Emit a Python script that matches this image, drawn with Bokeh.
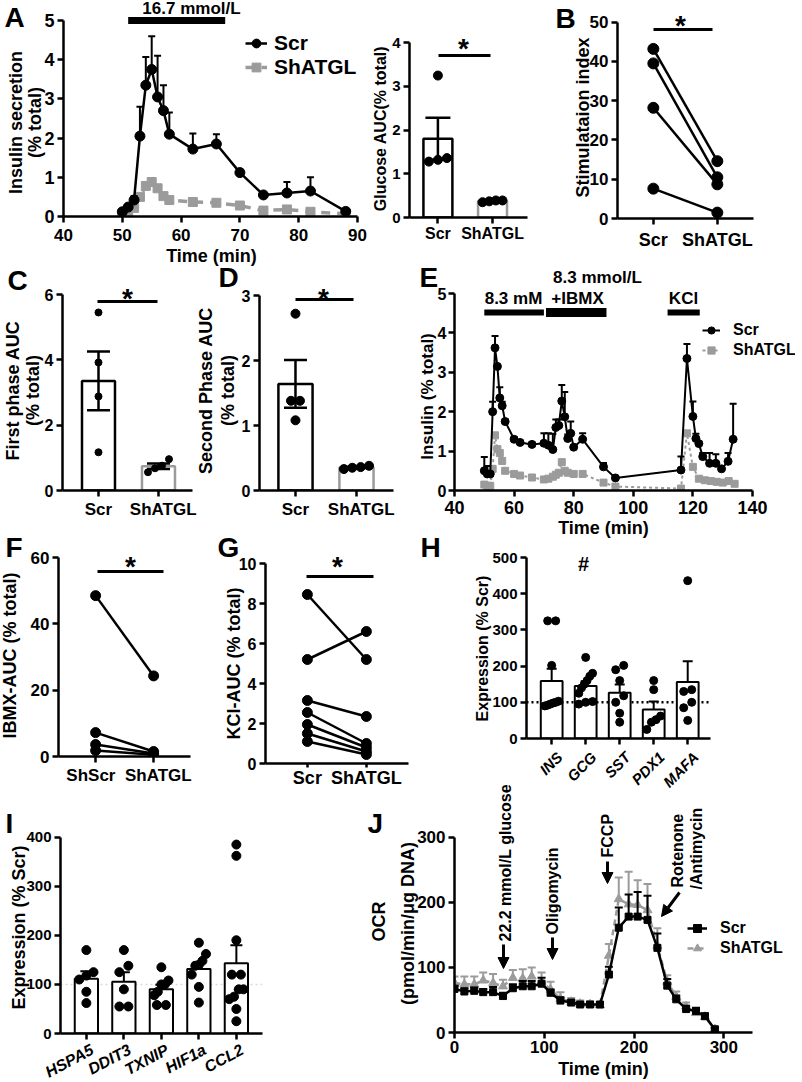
import numpy as np
from math import pi
from jinja2 import Template
from bokeh.plotting import figure
from bokeh.models import Range1d, FixedTicker, Label, Legend, LegendItem, Arrow, NormalHead
from bokeh.embed import file_html
from bokeh.resources import INLINE

FONT = "Liberation Sans"
GRAY = "#9b9b9b"
NB = "\u00a0"

# ============================ DATA ============================
# A: perifusion at 16.7 mmol/L glucose
a_time = [50, 51, 52, 53, 54, 55, 56, 57, 58, 62, 66, 70, 74, 78, 82, 88]
a_scr = [0.12, 0.24, 0.42, 2.05, 3.35, 3.75, 3.05, 2.70, 2.10, 1.72, 1.85, 1.12, 0.55, 0.60, 0.65, 0.13]
a_scr_sem = [0, 0, 0.10, 0.75, 0.72, 0.85, 1.05, 0.65, 0.55, 0.40, 0.25, 0.08, 0.03, 0.28, 0.35, 0]
a_sh = [0.05, 0.10, 0.22, 0.50, 0.78, 0.88, 0.72, 0.52, 0.42, 0.37, 0.35, 0.28, 0.15, 0.18, 0.12, 0.07]
a_sh_sem = [0, 0, 0.03, 0.06, 0.08, 0.08, 0.06, 0.04, 0.03, 0.02, 0.02, 0.02, 0.02, 0.03, 0.02, 0]
a_stim = [51, 67.5]
a_stim_label = "16.7 mmol/L"

groups = ["Scr", "ShATGL"]
glucose_auc_scr = [3.25, 1.28, 1.36, 1.32]
glucose_auc_sh = [0.35, 0.39, 0.39, 0.37]

# B: stimulation index (paired)
b_scr = [43.2, 39.5, 28.2, 7.6]
b_sh = [14.6, 10.5, 8.7, 1.5]

# C / D: first and second phase AUC
c_scr = [5.45, 3.92, 2.88, 1.17]
c_sh = [0.56, 0.96, 0.76, 0.68]
d_scr = [2.72, 1.38, 1.38, 1.08]
d_sh = [0.33, 0.38, 0.35, 0.36]

# E: 8.3 mM, 8.3 mmol/L + IBMX, KCl
e_scr_time = [50, 51, 52, 52.8, 53.6, 54.4, 55.2, 56, 57, 60, 62, 66, 70, 71.5, 73, 74, 75, 76, 77, 78, 79, 80, 83,
              90, 94, 116, 118, 120, 121, 122, 123.3, 125.6, 127.7, 129.6, 131.8, 133.5]
e_scr = [0.50, 0.42, 0.42, 2.00, 3.62, 3.15, 2.35, 2.15, 1.75, 1.30, 1.22, 1.17, 1.20, 1.15, 1.04, 1.60, 1.65, 2.27,
         1.87, 1.32, 1.45, 1.10, 1.30, 0.60, 0.32, 0.52, 3.35, 1.88, 1.32, 1.19, 0.86, 0.69, 0.69, 0.55, 0.74, 1.30]
e_scr_sem = [0.35, 0.2, 0.05, 0.25, 0.3, 0.02, 0.27, 0.1, 0.05, 0.05, 0.05, 0.05, 0.25, 0.3, 0.4, 0.2, 0.15, 0.41,
             0.63, 0.1, 0.3, 0.05, 0.15, 0.1, 0.03, 0.34, 0.37, 0.38, 0.12, 0.05, 0.09, 0.26, 0.23, 0.05, 0.21, 0.9]
e_sh_time = [50, 51, 52, 52.8, 53.6, 54.4, 55.2, 56, 57, 60, 62, 66, 70, 71.5, 73, 74, 75, 76, 77, 78, 80, 83,
             90, 94, 116, 118, 120, 122, 124, 126, 128, 130, 132, 134]
e_sh = [0.15, 0.12, 0.12, 0.55, 1.40, 1.05, 0.95, 0.75, 0.50, 0.42, 0.38, 0.33, 0.28, 0.30, 0.35, 0.40, 0.45, 0.72,
        0.50, 0.45, 0.42, 0.42, 0.20, 0.10, 0.05, 1.45, 0.60, 0.30, 0.26, 0.24, 0.22, 0.20, 0.24, 0.17]
e_stim_names = ["8.3 mM", "+IBMX", "KCl"]
e_stim_on = [50, 70.7, 111.5]
e_stim_off = [70, 91, 122.3]

# F / G: IBMX and KCl AUC (paired)
f_groups = ["ShScr", "ShATGL"]
f_scr = [48.5, 7.2, 3.6, 1.8]
f_sh = [24.3, 1.5, 0.9, 0.5]
g_scr = [8.45, 5.2, 3.15, 2.55, 1.95, 1.5, 1.1]
g_sh = [5.2, 6.6, 2.35, 1.0, 0.8, 0.6, 0.45]

# H / I: gene expression (% Scr)
h_genes = ["INS", "GCG", "SST", "PDX1", "MAFA"]
h_vals = [[325, 325, 202, 103, 100, 98, 95, 92, 90],
          [224, 180, 172, 160, 150, 140, 125, 102, 100, 95],
          [202, 190, 160, 118, 100, 70, 45],
          [160, 135, 62, 52, 45, 25],
          [436, 135, 130, 100, 85, 50]]
i_genes = ["HSPA5", "DDIT3", "TXNIP", "HIF1a", "CCL2"]
i_vals = [[170, 125, 118, 110, 85, 62],
          [170, 138, 125, 90, 55, 55],
          [135, 108, 100, 100, 85, 78, 58, 58],
          [185, 162, 148, 140, 138, 120, 95, 63],
          [385, 362, 190, 120, 120, 90, 90, 75, 70, 50, 25]]

# J: oxygen consumption rate
j_time = [0, 11, 22, 32, 43, 54, 65, 76, 86, 97, 107, 118, 130, 140, 151, 162, 172, 183, 194, 204,
          215, 226, 237, 247, 258, 269, 279, 290]
j_scr = [67, 63, 64, 62, 62, 56, 68, 71, 71, 75, 61, 49, 46, 43, 43, 43, 89, 161, 178, 178,
         173, 130, 72, 51, 36, 33, 25, 5]
j_scr_sem = [5, 5, 5, 5, 8, 5, 6, 8, 8, 9, 5, 5, 3, 3, 3, 3, 12, 31, 34, 38, 37, 22, 10, 6, 5, 5, 4, 2]
j_sh = [76, 74, 74, 80, 76, 71, 84, 83, 86, 78, 66, 52, 47, 44, 43, 42, 118, 205, 197, 196,
        188, 133, 78, 55, 40, 30, 24, 5]
j_sh_sem = [10, 12, 12, 12, 14, 10, 12, 14, 14, 14, 12, 10, 6, 5, 5, 5, 18, 33, 50, 38, 40, 27, 10, 8, 6, 5, 4, 2]
j_events = ["22.2 mmol/L glucose", "Oligomycin", "FCCP", "Rotenone", "/Antimycin"]

# ============================ HELPERS ============================
PLACED = []  # (figure, left, top)


class Pan:
    """A figure placed at a page position whose frame sits at given page-pixel edges."""
    def __init__(self, fig, frame, xr, ycal):
        fx0, fy0, fx1, fy1 = fig
        L, R, T, B = frame
        xs, xe = xr
        (ya, pa), (yb, pb) = ycal
        bl, br, bt, bb = L - fx0, fx1 - R, T - fy0, fy1 - B
        k = (yb - ya) / (pa - pb)
        ys = ya + (pa - B) * k
        ye = ya + (pa - T) * k
        self.L, self.R, self.T, self.B = L, R, T, B
        self.xs, self.xe, self.ys, self.ye = xs, xe, ys, ye
        p = figure(width=fx1 - fx0, height=fy1 - fy0, x_range=Range1d(xs, xe), y_range=Range1d(ys, ye),
                   min_border_left=bl, min_border_right=br, min_border_top=bt, min_border_bottom=bb,
                   output_backend="svg", toolbar_location=None, tools="")
        p.outline_line_color = None
        p.xgrid.visible = False
        p.ygrid.visible = False
        p.background_fill_color = None
        p.border_fill_color = None
        self.p = p
        self.ppx = (R - L) / (xe - xs)
        self.ppy = (B - T) / (ye - ys)
        PLACED.append((p, fx0, fy0))

    def X(self, rx):
        return self.xs + (rx - self.L) / self.ppx

    def Y(self, ry):
        return self.ys + (self.B - ry) / self.ppy

    def xpx(self, x):
        return self.L + (x - self.xs) * self.ppx


def axes(P, xticks, yticks, xbounds=None, ybounds=None, xfs=17, yfs=17, lw=2.5, xtick_out=6,
         ytick_out=6, xstand=4, ystand=3, xover=None):
    p = P.p
    p.xaxis.ticker = FixedTicker(ticks=xticks)
    p.yaxis.ticker = FixedTicker(ticks=yticks)
    if xover is not None:
        p.xaxis.major_label_overrides = xover
    if xbounds is not None:
        p.xaxis.bounds = xbounds
    if ybounds is not None:
        p.yaxis.bounds = ybounds
    for ax, fs, to in ((p.xaxis[0], xfs, xtick_out), (p.yaxis[0], yfs, ytick_out)):
        ax.axis_line_width = lw
        ax.axis_line_color = "black"
        ax.major_tick_line_width = lw
        ax.major_tick_line_color = "black"
        ax.major_tick_out = to
        ax.major_tick_in = 0
        ax.minor_tick_line_color = None
        ax.major_label_text_font = FONT
        ax.major_label_text_font_style = "bold"
        ax.major_label_text_font_size = f"{fs}px"
        ax.major_label_text_color = "black"
    p.xaxis.major_label_standoff = xstand
    p.yaxis.major_label_standoff = ystand


def errbars(P, x, y, err, color, capw, lw=2, down=False):
    x = np.asarray(x, float)
    y = np.asarray(y, float)
    e = np.asarray(err, float)
    k = e > 0
    x, y, e = x[k], y[k], e[k]
    lo = y - e if down else y
    P.p.segment(x, lo, x, y + e, line_color=color, line_width=lw)
    P.p.scatter(x, y + e, marker="dash", size=capw, line_color=color, line_width=lw)
    if down:
        P.p.scatter(x, y - e, marker="dash", size=capw, line_color=color, line_width=lw)


def swarm(vals, center, P, d, maxhalf):
    v = np.asarray(vals, float)
    order = np.argsort(v, kind="stable")
    xs = np.full(len(v), float(center))
    clusters = [[order[0]]]
    for i in order[1:]:
        if (v[i] - v[clusters[-1][-1]]) * P.ppy < d:
            clusters[-1].append(i)
        else:
            clusters.append([i])
    for cl in clusters:
        n = len(cl)
        if n == 1:
            continue
        step = min(d, 2.0 * maxhalf / (n - 1))
        for kk, i in enumerate(cl):
            xs[i] = center + (kk - (n - 1) / 2.0) * step / P.ppx
    return xs


def bar_panel(P, groups_vals, width, colors, capw, dot, lw=2.5, both=True, elw=2.5):
    for i, vals in enumerate(groups_vals):
        v = np.asarray(vals, float)
        m = v.mean()
        s = v.std(ddof=1) / np.sqrt(len(v))
        P.p.vbar(x=[i], top=[m], bottom=0, width=width, fill_color="white",
                 line_color=colors[i], line_width=lw)
        errbars(P, [i], [m], [s], "black", capw, lw=elw, down=both)
        half = width * P.ppx / 2.0 - dot / 2.0
        xs = swarm(v, i, P, dot, half)
        P.p.scatter(xs, v, size=dot, color="black")


def paired(P, a, b, size, lw=2.5):
    for va, vb in zip(a, b):
        P.p.line([0, 1], [va, vb], line_color="black", line_width=lw)
    P.p.scatter([0] * len(a), a, size=size, color="black")
    P.p.scatter([1] * len(b), b, size=size, color="black")


def legend(P, items, loc, fs, gw, gh, standoff, spacing=0):
    leg = Legend(items=items, location=loc, orientation="vertical", border_line_color=None,
                 background_fill_alpha=0.0, padding=0, margin=0, spacing=spacing,
                 glyph_width=gw, glyph_height=gh, label_height=gh, label_standoff=standoff,
                 label_text_font=FONT, label_text_font_style="bold",
                 label_text_font_size=f"{fs}px", label_text_color="black")
    P.p.add_layout(leg)


# ---------- overlay figure for free text (page pixel coordinates) ----------
O = figure(width=802, height=1082, x_range=Range1d(0, 802), y_range=Range1d(1082, 0),
           min_border_left=0, min_border_right=0, min_border_top=0, min_border_bottom=0,
           x_axis_type=None, y_axis_type=None, output_backend="svg", toolbar_location=None, tools="")
O.outline_line_color = None
O.background_fill_color = None
O.border_fill_color = None


def ot(x, y, text, size, angle=0, align="center", style="bold"):
    O.add_layout(Label(x=x, y=y, text=text, angle=angle, text_align=align, text_baseline="middle",
                       text_font=FONT, text_font_style=style, text_font_size=f"{size}px",
                       text_color="black"))


def letter(x, y, t):
    ot(x, y, t, 28, align="left")


def star(x, y, size=28):
    ot(x, y + 0.23 * size, "*", size)


def sigline(x0, x1, y):
    O.line([x0, x1], [y, y], line_color="black", line_width=3)


# ============================ PANEL A ============================
A = Pan((18, 8, 372, 256), (63, 370, 10, 216), (40, 90 + 13 / 5.88), ((0, 216), (5, 20)))
axes(A, [40, 50, 60, 70, 80, 90], [0, 1, 2, 3, 4, 5], xbounds=(40, 90), ybounds=(0, 5),
     xfs=17, yfs=18, xstand=6)
errbars(A, a_time, a_sh, a_sh_sem, GRAY, 7)
r_sh_l = A.p.line(a_time, a_sh, line_color=GRAY, line_width=3.5, line_dash="9 7")
r_sh_m = A.p.scatter(a_time, a_sh, marker="square", size=9, color=GRAY)
errbars(A, a_time, a_scr, a_scr_sem, "black", 7)
r_scr_l = A.p.line(a_time, a_scr, line_color="black", line_width=2.5)
r_scr_m = A.p.scatter(a_time, a_scr, marker="circle", size=10, color="black")
A.p.line(a_stim, [A.Y(20), A.Y(20)], line_color="black", line_width=7)
legend(A, [LegendItem(label="Scr", renderers=[r_scr_l, r_scr_m]),
           LegendItem(label="ShATGL", renderers=[r_sh_l, r_sh_m])], (182, 137), 21, 22, 24, 7)
ot(191, 8, a_stim_label, 17)
letter(4, 17, "A")
ot(15, 122, "Insulin secretion", 18, angle=pi / 2)
ot(34, 122, "(% total)", 18, angle=pi / 2)
ot(211, 255, "Time (min)", 18)

# ============================ PANEL A inset ============================
Ai = Pan((369, 20, 532, 257), (409, 527, 30, 217), (-0.52, 1.64), ((0, 217), (4, 42.3)))
axes(Ai, [0, 1], [0, 1, 2, 3, 4], ybounds=(0, 4), xfs=16, yfs=15, xstand=1,
     xover={0: groups[0], 1: groups[1]})
bar_panel(Ai, [glucose_auc_scr, glucose_auc_sh], 0.53, ["black", GRAY], 25, 9)
sigline(438, 490, 55)
star(463, 42)
ot(380, 128, "Glucose AUC(% total)", 16, angle=pi / 2)

# ============================ PANEL B ============================
B = Pan((572, 5, 758, 258), (617, 753, 12, 218), (-0.56, 1.565), ((0, 218), (50, 21.7)))
axes(B, [0, 1], [0, 10, 20, 30, 40, 50], ybounds=(0, 50), xfs=18, yfs=17, xstand=5,
     xover={0: groups[0], 1: groups[1]})
paired(B, b_scr, b_sh, 11)
sigline(653, 712, 29)
star(680, 19)
letter(555, 18, "B")
ot(582, 117, "Stimulataion index", 18, angle=pi / 2)

# ============================ PANEL C ============================
C = Pan((17, 280, 197, 530), (62, 192, 288, 490), (-0.6, 1.567), ((0, 490), (6, 294)))
axes(C, [0, 1], [0, 2, 4, 6], ybounds=(0, 6), xfs=17, yfs=16, xstand=3,
     xover={0: groups[0], 1: NB + NB + groups[1]})
bar_panel(C, [c_scr, c_sh], 0.55, ["black", GRAY], 23, 7)
sigline(97, 157, 301)
star(127, 292)
letter(7, 280, "C")
ot(12, 390, "First phase AUC", 18, angle=pi / 2)
ot(32, 390, "(% total)", 18, angle=pi / 2)

# ============================ PANEL D ============================
D = Pan((214, 280, 398, 530), (259, 393, 288, 490), (-0.59, 1.607), ((0, 490), (3, 295)))
axes(D, [0, 1], [0, 1, 2, 3], ybounds=(0, 3), xfs=17, yfs=16, xstand=3,
     xover={0: groups[0], 1: NB + NB + groups[1]})
bar_panel(D, [d_scr, d_sh], 0.56, ["black", GRAY], 23, 9)
sigline(295, 353, 299)
star(323, 292)
letter(218, 277, "D")
ot(205, 390, "Second Phase AUC", 18, angle=pi / 2)
ot(227, 390, "(% total)", 18, angle=pi / 2)

# ============================ PANEL E ============================
E = Pan((414, 265, 800, 530), (454, 795, 285, 490), (40, 140 + 43 / 2.98), ((0, 490), (5, 293)))
axes(E, [40, 60, 80, 100, 120, 140], [0, 1, 2, 3, 4, 5], xbounds=(40, 140), ybounds=(0, 5),
     xfs=18, yfs=16, xstand=4, ystand=2)
r_esh_l = E.p.line(e_sh_time, e_sh, line_color=GRAY, line_width=2, line_dash="3 3")
r_esh_m = E.p.scatter(e_sh_time, e_sh, marker="square", size=7, color=GRAY)
errbars(E, e_scr_time, e_scr, e_scr_sem, "black", 7)
r_e_l = E.p.line(e_scr_time, e_scr, line_color="black", line_width=2)
r_e_m = E.p.scatter(e_scr_time, e_scr, marker="circle", size=8, color="black")
for on, off, th in zip(e_stim_on, e_stim_off, [6, 9, 6]):
    E.p.line([on, off], [E.Y(312), E.Y(312)], line_color="black", line_width=th)
legend(E, [LegendItem(label="Scr", renderers=[r_e_l, r_e_m]),
           LegendItem(label="ShATGL", renderers=[r_esh_l, r_esh_m])], (248, 130), 16, 18, 20, 13)
ot(513, 298, e_stim_names[0], 17)
ot(577, 298, e_stim_names[1], 17)
ot(597, 277, "8.3 mmol/L", 17)
ot(683, 298, e_stim_names[2], 17)
letter(419, 277, "E")
ot(427, 396, "Insulin (% total)", 17, angle=pi / 2)
ot(603, 527, "Time (min)", 18)

# ============================ PANEL F ============================
F = Pan((13, 545, 195, 796), (58, 190, 552, 756), (-0.64, 1.636), ((0, 756), (60, 557)))
axes(F, [0, 1], [0, 20, 40, 60], ybounds=(0, 60), xfs=17, yfs=17, xstand=3,
     xover={0: f_groups[0] + NB + NB, 1: NB + NB + f_groups[1]})
paired(F, f_scr, f_sh, 10)
sigline(97, 163, 571)
star(130, 560)
letter(5, 547, "F")
ot(9, 655, "IBMX-AUC (% total)", 18, angle=pi / 2)

# ============================ PANEL G ============================
G = Pan((220, 550, 413, 800), (265, 408, 558, 763), (-0.71, 1.714), ((0, 763), (10, 563)))
axes(G, [0, 1], [0, 2, 4, 6, 8, 10], ybounds=(0, 10), xfs=18, yfs=16, xtick_out=4, xstand=0,
     xover={0: groups[0], 1: groups[1]})
paired(G, g_scr, g_sh, 10)
sigline(306, 373, 576)
star(337, 560)
letter(217, 547, "G")
ot(233, 663, "KCl-AUC (% total)", 18, angle=pi / 2)

# ============================ PANEL H ============================
H = Pan((481, 545, 717, 780), (526, 710, 552, 738), (-0.74, 4.67), ((0, 738), (500, 557)))
axes(H, [0, 1, 2, 3, 4], [0, 100, 200, 300, 400, 500], ybounds=(0, 500), xfs=0, yfs=15,
     xover={i: "" for i in range(5)})
H.p.line([H.xs, H.xe], [100, 100], line_color="black", line_width=2.5, line_dash="2 3")
bar_panel(H, h_vals, 0.64, ["black"] * 5, 10, 8, lw=2, both=False, elw=2)
for i, g in enumerate(h_genes):
    ot(H.xpx(i) + 8, H.B + 16, g, 15, angle=pi / 4, align="right", style="bold italic")
ot(583, 563, "#", 20)
letter(420, 547, "H")
ot(482, 648, "Expression (% Scr)", 16, angle=pi / 2)

# ============================ PANEL I ============================
I = Pan((15, 825, 267, 1075), (60, 262, 832, 1033), (-0.69, 4.697), ((0, 1033), (400, 836.7)))
axes(I, [0, 1, 2, 3, 4], [0, 100, 200, 300, 400], ybounds=(0, 400), xfs=0, yfs=15,
     xover={i: "" for i in range(5)})
I.p.line([I.xs, I.xe], [100, 100], line_color="#d9d9d9", line_width=1.5, line_dash="2 3")
bar_panel(I, i_vals, 0.62, ["black"] * 5, 12, 9, lw=2, both=False, elw=2)
for i, g in enumerate(i_genes):
    ot(I.xpx(i) + 6, I.B + 15, g, 16, angle=0.49, align="right", style="bold italic")
letter(5, 823, "I")
ot(18, 927, "Expression (% Scr)", 18, angle=pi / 2)

# ============================ PANEL J ============================
J = Pan((404, 825, 800, 1078), (454, 795, 830, 1032), (0, 341 / 0.8977), ((0, 1032), (300, 836.7)))
axes(J, [0, 100, 200, 300], [0, 100, 200, 300], xbounds=(0, 331.6), ybounds=(0, 300),
     xfs=17, yfs=17, xstand=2)
errbars(J, j_time, j_sh, j_sh_sem, GRAY, 8)
r_jsh_l = J.p.line(j_time, j_sh, line_color=GRAY, line_width=2.5, line_dash="6 4")
r_jsh_m = J.p.scatter(j_time, j_sh, marker="triangle", size=9, color=GRAY)
errbars(J, j_time, j_scr, j_scr_sem, "black", 8)
r_j_l = J.p.line(j_time, j_scr, line_color="black", line_width=2.5)
r_j_m = J.p.scatter(j_time, j_scr, marker="square", size=7, color="black")
legend(J, [LegendItem(label="Scr", renderers=[r_j_l, r_j_m]),
           LegendItem(label="ShATGL", renderers=[r_jsh_l, r_jsh_m])], (233, 74), 16, 20, 20, 13)
for (x0, y0, x1, y1) in [(503, 944, 503, 968), (552, 937, 552, 959), (607, 861, 607, 883), (679, 892, 661, 916)]:
    O.add_layout(Arrow(end=NormalHead(size=11, fill_color="black", line_color="black", line_width=1),
                       x_start=x0, y_start=y0, x_end=x1, y_end=y1, line_width=3, line_color="black"))
ot(505, 941, j_events[0], 16, angle=pi / 2, align="left")
ot(552, 934, j_events[1], 16, angle=pi / 2, align="left")
ot(607, 857, j_events[2], 16, angle=pi / 2, align="left")
ot(677, 887, j_events[3], 16, angle=pi / 2, align="left")
ot(696, 889, j_events[4], 16, angle=pi / 2, align="left")
letter(367, 823, "J")
ot(378, 921, "OCR", 18, angle=pi / 2)
ot(407, 923, "(pmol/min/\u03bcg DNA)", 18, angle=pi / 2)
ot(603, 1068, "Time (min)", 18)

PLACED.append((O, 0, 0))

# ============================ PAGE ============================
models = [m for (m, _, _) in PLACED]
divs = "\n".join(
    f'<div style="position:absolute;left:{x}px;top:{y}px;">{{{{ embed(roots[{i}]) }}}}</div>'
    for i, (_, x, y) in enumerate(PLACED))
page = Template("{% extends base %}\n{% block contents %}\n{% from macros import embed %}\n"
                + divs + "\n{% endblock %}")
open("out.html", "w").write(file_html(models, INLINE, title="Figure", template=page))
